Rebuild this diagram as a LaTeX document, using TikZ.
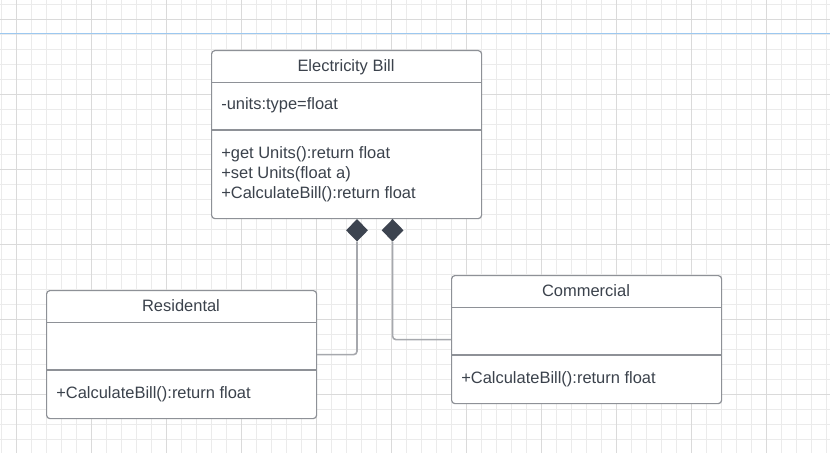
\documentclass[tikz,border=0pt]{standalone}
\usepackage{fontspec}
\setmainfont{Liberation Sans}
\usetikzlibrary{shapes.geometric}
\definecolor{gridminor}{HTML}{EBEBEB}
\definecolor{gridmajor}{HTML}{DADADA}
\definecolor{pageline}{HTML}{9CC8F0}
\definecolor{boxline}{HTML}{8E9197}
\definecolor{connline}{HTML}{A6A8AD}
\definecolor{txt}{HTML}{3B424C}
\definecolor{dia}{HTML}{3D4450}
\begin{document}
\begin{tikzpicture}[x=0.75pt,y=-0.75pt,
  minor/.style={draw=gridminor,line width=0.75pt},
  major/.style={draw=gridmajor,line width=0.75pt},
  classbox/.style={draw=boxline,fill=white,line width=0.9pt,rounded corners=2.5pt,
    anchor=north west,minimum width=202.5pt,inner sep=0pt},
  divider/.style={draw=boxline,line width=0.9pt},
  lbl/.style={text=txt,inner sep=0pt,font=\fontsize{12.35}{15}\selectfont},
  conn/.style={draw=connline,line width=1.2pt,rounded corners=2.5pt},
  agg/.style={diamond,fill=dia,draw=none,inner sep=0pt,minimum width=16.5pt,minimum height=17pt}]
\useasboundingbox (0,0) rectangle (830,453);
\fill[white] (0,0) rectangle (830,453);
% grid
\foreach \x in {1.3,16.3,...,830} \draw[minor] (\x,0) -- (\x,453);
\foreach \y in {4.3,19.3,...,455} \draw[minor] (0,\y) -- (830,\y);
\foreach \x in {16.3,91.3,...,830} \draw[major] (\x,0) -- (\x,453);
\foreach \y in {19.3,94.3,...,455} \draw[major] (0,\y) -- (830,\y);
\draw[draw=pageline,line width=0.9pt] (0,33.3) -- (830,33.3);

% Electricity Bill
\node[classbox,minimum height=126pt] (eb) at (211,50) {};
\draw[divider] (211,82.3) -- (481,82.3);
\draw[divider] (211,130) -- (481,130);
\node[lbl,anchor=base] (ebt) at (346,71) {Electricity Bill};
\node[lbl,anchor=base west] (eba) at (221,109.5) {-units:type=float};
\node[lbl,anchor=base west] (ebm1) at (221,158.5) {+get Units():return float};
\node[lbl,anchor=base west] (ebm2) at (221,178.5) {+set Units(float a)};
\node[lbl,anchor=base west] (ebm3) at (221,198.5) {+CalculateBill():return float};

% Residental
\node[classbox,minimum height=96pt] (res) at (46,290) {};
\draw[divider] (46,322.3) -- (316,322.3);
\draw[divider] (46,370) -- (316,370);
\node[lbl,anchor=base] (rest) at (181,311) {Residental};
\node[lbl,anchor=base west] (resm) at (56,398.5) {+CalculateBill():return float};

% Commercial
\node[classbox,minimum height=96pt] (com) at (451,275) {};
\draw[divider] (451,307.3) -- (721,307.3);
\draw[divider] (451,355) -- (721,355);
\node[lbl,anchor=base] (comt) at (586,296) {Commercial};
\node[lbl,anchor=base west] (comm) at (461,383.5) {+CalculateBill():return float};

% aggregation diamonds and connectors
\node[agg] (d1) at (357,230.3) {};
\node[agg] (d2) at (392.6,230.3) {};
\draw[conn] (d1.south) |- (res.east);
\draw[conn] (d2.south) |- (com.west);
\end{tikzpicture}
\end{document}
